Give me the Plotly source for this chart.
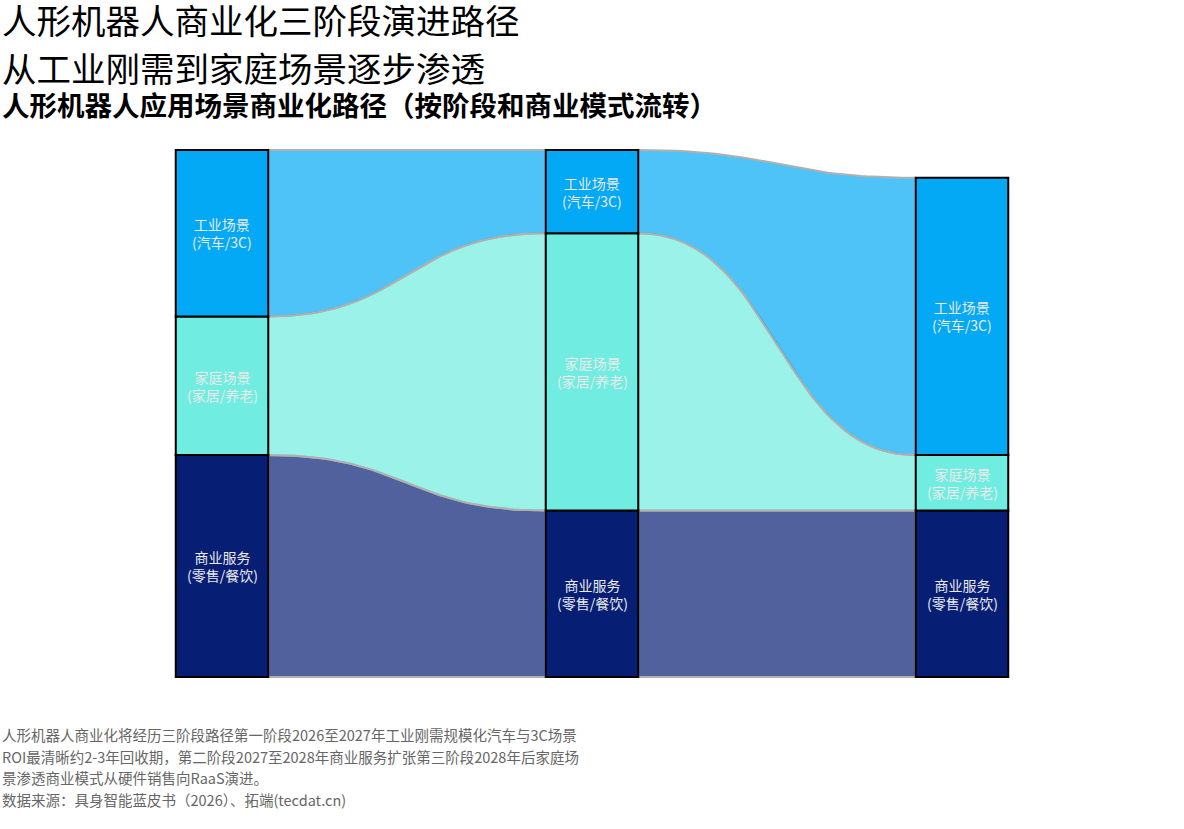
import plotly.graph_objects as go
import numpy as np

# ---------------- data ----------------
stages = ["第一阶段", "第二阶段", "第三阶段"]
categories = ["商业服务", "家庭场景", "工业场景"]          # bottom -> top stacking order
labels = ["商业服务<br>(零售/餐饮)", "家庭场景<br>(家居/养老)", "工业场景<br>(汽车/3C)"]
stage1_values = [80, 50, 60]
stage2_values = [60, 100, 30]
stage3_values = [60, 20, 100]
node_colors = ["#061E74", "#70EDE0", "#03A9F4"]
flow_colors = ["rgba(6,30,116,0.7)", "rgba(112,237,224,0.7)", "rgba(3,169,244,0.7)"]
footnote_lines = [
    "人形机器人商业化将经历三阶段路径第一阶段2026至2027年工业刚需规模化汽车与3C场景",
    "ROI最清晰约2-3年回收期，第二阶段2027至2028年商业服务扩张第三阶段2028年后家庭场",
    "景渗透商业模式从硬件销售向RaaS演进。",
    "数据来源：具身智能蓝皮书（2026）、拓端(tecdat.cn)",
]

values = [stage1_values, stage2_values, stage3_values]
stage_x = [0, 1, 2]
half_w = 0.125

def stack(vals):
    lo, hi, c = [], [], 0
    for v in vals:
        lo.append(c)
        c += v
        hi.append(c)
    return lo, hi

stacks = [stack(v) for v in values]

def curve(x0, y0, x1, y1, n=60):
    t = np.linspace(0, 1, n)
    xm = (x0 + x1) / 2
    x = (1 - t) ** 3 * x0 + 3 * (1 - t) ** 2 * t * xm + 3 * (1 - t) * t ** 2 * xm + t ** 3 * x1
    y = (1 - t) ** 3 * y0 + 3 * (1 - t) ** 2 * t * y0 + 3 * (1 - t) * t ** 2 * y1 + t ** 3 * y1
    return x, y

fig = go.Figure()

for k in range(len(stages) - 1):
    lo_a, hi_a = stacks[k]
    lo_b, hi_b = stacks[k + 1]
    xa = stage_x[k] + half_w
    xb = stage_x[k + 1] - half_w
    for i in range(len(categories)):
        tx, ty = curve(xa, hi_a[i], xb, hi_b[i])
        bx, by = curve(xb, lo_b[i], xa, lo_a[i])
        xs = np.concatenate([tx, bx, [tx[0]]])
        ys = np.concatenate([ty, by, [ty[0]]])
        fig.add_trace(go.Scatter(
            x=xs, y=ys, mode="lines", fill="toself",
            fillcolor=flow_colors[i],
            line=dict(color="#B0B0B0", width=2),
            hoverinfo="skip", showlegend=False))

shapes = []
annotations = []
for k in range(len(stages)):
    lo, hi = stacks[k]
    for i in range(len(categories)):
        shapes.append(dict(
            type="rect", xref="x", yref="y",
            x0=stage_x[k] - half_w, x1=stage_x[k] + half_w,
            y0=lo[i], y1=hi[i],
            fillcolor=node_colors[i], line=dict(color="#000000", width=2),
            layer="above"))
        annotations.append(dict(
            x=stage_x[k], y=(lo[i] + hi[i]) / 2, xref="x", yref="y",
            text=labels[i], showarrow=False,
            font=dict(family="Noto Sans CJK SC", size=14, color="#EAEAEA"),
            align="center"))

W, H = 1184, 829

def py(p):
    return 1 - p / H

annotations += [
    dict(x=0.0, y=py(19), xref="paper", yref="paper", xanchor="left", yanchor="middle",
         text="人形机器人商业化三阶段演进路径", showarrow=False,
         font=dict(family="Noto Sans CJK SC", size=34.5, color="#000000")),
    dict(x=0.0, y=py(67), xref="paper", yref="paper", xanchor="left", yanchor="middle",
         text="从工业刚需到家庭场景逐步渗透", showarrow=False,
         font=dict(family="Noto Sans CJK SC", size=34.5, color="#000000")),
    dict(x=0.0, y=py(104), xref="paper", yref="paper", xanchor="left", yanchor="middle",
         text="<b>人形机器人应用场景商业化路径（按阶段和商业模式流转）</b>", showarrow=False,
         font=dict(family="Noto Sans CJK SC", size=27.5, color="#000000")),
]

foot_y = [734, 756, 777, 799]
for txt, yy in zip(footnote_lines, foot_y):
    annotations.append(dict(
        x=0.0, y=py(yy), xref="paper", yref="paper", xanchor="left", yanchor="middle",
        text=txt, showarrow=False, align="left",
        font=dict(family="Noto Sans CJK SC", size=14.5, color="#666666")))

px_per_unit_y = (677 - 150) / 190.0
y_bottom = 0 - (H - 677) / px_per_unit_y
y_top = 190 + 150 / px_per_unit_y

fig.update_layout(
    width=W, height=H,
    margin=dict(l=0, r=0, t=0, b=0),
    paper_bgcolor="white", plot_bgcolor="white",
    xaxis=dict(range=[-0.6, 2.6], visible=False, fixedrange=True),
    yaxis=dict(range=[y_bottom, y_top], visible=False, fixedrange=True),
    shapes=shapes, annotations=annotations,
    showlegend=False,
)

fig.write_html("out.html")
